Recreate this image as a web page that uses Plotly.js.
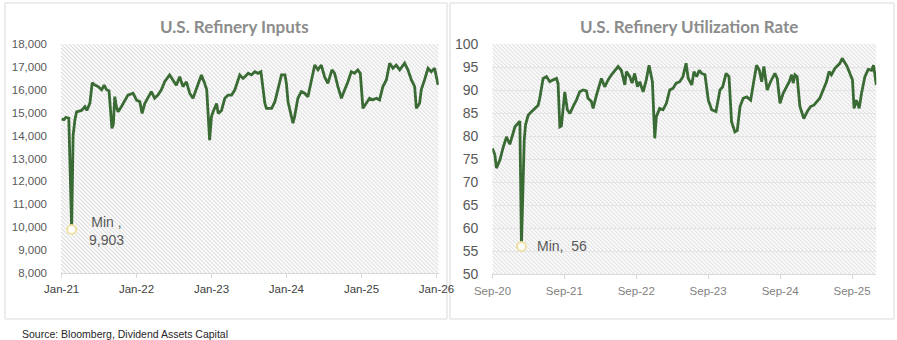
<!DOCTYPE html>
<html>
<head>
<meta charset="utf-8">
<script src="https://cdn.plot.ly/plotly-3.0.1.min.js"></script>
<style>
html,body{margin:0;padding:0;background:#fff;}
#chart{width:897px;height:340px;}
</style>
</head>
<body>
<div id="chart"></div>
<script>
// ---------- Data ----------
const inputsTitle = 'U.S. Refinery Inputs';
const utilTitle = 'U.S. Refinery Utilization Rate';
const sourceText = 'Source: Bloomberg, Dividend Assets Capital';

const inputDates = ['2021-01-01','2021-01-12','2021-01-22','2021-02-05','2021-02-19','2021-02-26','2021-03-07','2021-03-15','2021-04-08','2021-04-24','2021-05-04','2021-05-19','2021-05-30','2021-06-12','2021-06-28','2021-07-15','2021-07-27','2021-08-08','2021-08-20','2021-09-03','2021-09-10','2021-09-17','2021-09-25','2021-10-03','2021-10-19','2021-11-04','2021-11-20','2021-12-15','2022-01-01','2022-01-17','2022-01-28','2022-02-10','2022-02-26','2022-03-14','2022-03-30','2022-04-15','2022-05-02','2022-05-18','2022-06-11','2022-06-27','2022-07-14','2022-07-30','2022-08-15','2022-09-01','2022-09-17','2022-10-03','2022-10-19','2022-11-13','2022-11-29','2022-12-09','2022-12-23','2023-01-01','2023-01-09','2023-01-26','2023-02-03','2023-02-19','2023-03-07','2023-03-23','2023-04-09','2023-04-25','2023-05-19','2023-06-04','2023-06-13','2023-06-29','2023-07-15','2023-07-31','2023-08-16','2023-08-30','2023-09-10','2023-09-18','2023-09-26','2023-10-21','2023-11-06','2023-11-22','2023-12-08','2023-12-25','2024-01-01','2024-01-09','2024-01-25','2024-02-02','2024-02-10','2024-02-26','2024-03-14','2024-03-30','2024-04-15','2024-05-02','2024-05-18','2024-06-03','2024-06-19','2024-07-05','2024-07-21','2024-08-10','2024-08-23','2024-09-08','2024-09-25','2024-10-11','2024-10-27','2024-11-12','2024-11-28','2024-12-14','2024-12-26','2025-01-08','2025-01-24','2025-02-09','2025-02-25','2025-03-14','2025-03-30','2025-04-15','2025-05-02','2025-05-18','2025-06-03','2025-06-19','2025-07-06','2025-07-30','2025-08-15','2025-09-01','2025-09-17','2025-09-25','2025-10-11','2025-10-19','2025-11-04','2025-11-21','2025-12-07','2025-12-23','2026-01-09'];
const inputValues = [14725,14700,14800,14760,9903,14000,14700,15040,15100,15260,15100,15420,16310,16210,16140,16000,16200,16000,15950,14320,14500,15700,15260,15040,15260,15550,15770,15850,15550,15480,14970,15400,15630,15920,15630,15770,16000,16350,16650,16430,16200,16570,16140,16350,15850,15630,16000,16650,16280,16000,13800,14830,15040,15400,14960,15100,15630,15770,15770,16000,16650,16500,16570,16720,16650,16790,16720,16790,16000,15410,15190,15190,15480,16140,16650,16650,16280,15480,14760,14540,14830,15630,15920,15850,15700,16430,17080,16870,17080,16570,16280,16870,16720,16140,15630,16000,16350,16790,16720,16870,16720,15190,15410,15630,15560,15630,15560,16140,16430,17160,16940,17080,16870,17160,16870,16430,16140,15190,15410,16000,16430,16940,16790,16940,16210];

const utilDates = ['2020-09-25','2020-10-07','2020-10-15','2020-11-02','2020-11-18','2020-12-05','2020-12-22','2021-01-08','2021-01-17','2021-02-02','2021-02-11','2021-02-19','2021-02-26','2021-03-05','2021-03-12','2021-03-19','2021-03-25','2021-04-11','2021-04-28','2021-05-15','2021-05-23','2021-06-09','2021-06-26','2021-07-13','2021-07-30','2021-08-16','2021-08-24','2021-09-02','2021-09-10','2021-09-27','2021-10-10','2021-10-23','2021-11-08','2021-11-25','2021-12-12','2021-12-29','2022-01-15','2022-01-23','2022-02-09','2022-02-18','2022-03-07','2022-03-24','2022-04-01','2022-04-18','2022-05-05','2022-05-22','2022-06-04','2022-06-25','2022-07-11','2022-07-29','2022-08-06','2022-08-23','2022-09-04','2022-09-17','2022-10-01','2022-10-13','2022-10-30','2022-11-15','2022-11-29','2022-12-11','2022-12-16','2022-12-28','2023-01-05','2023-01-22','2023-02-08','2023-02-25','2023-03-14','2023-03-31','2023-04-16','2023-05-04','2023-05-20','2023-06-05','2023-06-16','2023-07-04','2023-07-15','2023-07-29','2023-08-11','2023-08-23','2023-09-09','2023-09-26','2023-10-13','2023-11-04','2023-11-24','2023-12-08','2023-12-25','2024-01-09','2024-01-22','2024-02-08','2024-02-20','2024-03-05','2024-03-21','2024-04-08','2024-04-28','2024-05-15','2024-05-28','2024-06-11','2024-06-23','2024-07-04','2024-07-21','2024-08-07','2024-08-29','2024-09-10','2024-09-24','2024-10-10','2024-10-27','2024-11-10','2024-11-22','2024-11-30','2024-12-09','2024-12-20','2025-01-03','2025-01-23','2025-02-09','2025-02-26','2025-03-15','2025-03-29','2025-04-14','2025-05-01','2025-05-18','2025-05-31','2025-06-12','2025-06-30','2025-07-11','2025-07-25','2025-08-06','2025-08-20','2025-08-31','2025-09-14','2025-09-27','2025-10-05','2025-10-17','2025-10-31','2025-11-12','2025-11-29','2025-12-16','2026-01-02','2026-01-12','2026-01-26'];
const utilValues = [77.3,75.9,73.0,74.8,77.5,79.8,78.2,80.5,82.0,82.8,83.2,56.0,70.0,79.0,82.5,84.0,84.5,85.3,86.0,86.7,88.2,92.5,92.9,91.8,92.2,92.5,91.4,82.0,82.2,89.6,85.7,84.9,86.4,87.8,89.6,90.0,89.8,88.2,87.5,86.0,88.9,91.8,92.5,90.7,92.2,93.3,94.0,95.1,94.3,91.1,94.0,92.9,91.5,93.6,90.7,91.8,89.6,92.2,95.4,92.5,91.8,79.5,84.2,86.0,85.7,87.1,90.0,90.4,91.5,91.8,92.9,95.8,92.5,91.1,94.0,92.9,94.3,93.6,93.3,87.8,85.7,85.3,90.0,90.7,93.6,92.9,83.1,80.9,81.2,86.4,88.2,88.5,87.8,92.2,95.4,94.3,91.8,95.1,90.0,91.8,93.6,92.5,87.1,89.3,90.7,91.8,93.3,91.5,93.3,92.9,86.4,83.8,85.3,86.4,86.7,87.3,88.2,90.0,91.8,94.0,93.3,94.7,95.1,95.8,96.9,95.8,95.1,93.6,92.2,86.0,87.8,86.0,89.3,92.9,94.5,94.3,95.4,91.1];

// ---------- Helpers ----------
const W = 897, H = 340;
const px = v => v / W;
const py = v => 1 - v / H;
function minIndex(arr){ let k=0; arr.forEach((v,i)=>{ if(v<arr[k]) k=i; }); return k; }
function hatch(w,h){
  const svg = `<svg xmlns="http://www.w3.org/2000/svg" width="${w}" height="${h}" viewBox="0 0 ${w} ${h}">`+
    `<defs><pattern id="p" patternUnits="userSpaceOnUse" width="4" height="4">`+
    `<rect width="4" height="4" fill="#ffffff"/>`+
    `<path d="M-1,-1 L5,5 M-1,3 L1,5 M3,-1 L5,1" stroke="#dcdcdc" stroke-width="1.1"/>`+
    `</pattern></defs><rect width="${w}" height="${h}" fill="url(#p)"/></svg>`;
  return 'data:image/svg+xml;charset=utf-8,' + encodeURIComponent(svg);
}

const green = '#3a6b34';
const L = {x0:61, x1:438.7, y0:44, y1:273};
const R = {x0:492.3, x1:876.3, y0:44, y1:274};

const iMin = minIndex(inputValues);
const uMin = minIndex(utilValues);

const traces = [
  {x: inputDates, y: inputValues, type:'scatter', mode:'lines', xaxis:'x', yaxis:'y',
   line:{color:green, width:2.8}, hoverinfo:'skip'},
  {x: [inputDates[iMin]], y:[inputValues[iMin]], type:'scatter', mode:'markers', xaxis:'x', yaxis:'y',
   marker:{size:9, color:'#ffffff', line:{color:'#efe0a2', width:2}}, hoverinfo:'skip'},
  {x: utilDates, y: utilValues, type:'scatter', mode:'lines', xaxis:'x2', yaxis:'y2',
   line:{color:green, width:2.8}, hoverinfo:'skip'},
  {x: [utilDates[uMin]], y:[utilValues[uMin]], type:'scatter', mode:'markers', xaxis:'x2', yaxis:'y2',
   marker:{size:9, color:'#ffffff', line:{color:'#efe0a2', width:2}}, hoverinfo:'skip'}
];

const tickFont = {family:'Liberation Sans, Arial, sans-serif', size:11.5, color:'#404040'};

const layout = {
  width: W, height: H,
  margin:{l:0,r:0,t:0,b:0},
  paper_bgcolor:'#ffffff', plot_bgcolor:'rgba(0,0,0,0)',
  showlegend:false,
  xaxis:{domain:[px(L.x0), px(L.x1)], anchor:'y', type:'date',
    range:['2020-12-29','2026-01-12'], tick0:'2021-01-01', dtick:'M12', tickformat:'%b-%y',
    showgrid:false, zeroline:false, showline:true, linecolor:'#d9d9d9', linewidth:1,
    ticks:'outside', ticklen:4, tickcolor:'#d9d9d9', tickfont:tickFont, ticklabelstandoff:1},
  yaxis:{domain:[py(L.y1), py(L.y0)], anchor:'x', range:[8000,18000], dtick:1000, tickformat:',d',
    showgrid:false, zeroline:false, showline:false, ticks:'',
    tickfont:{family:'Liberation Sans, Arial, sans-serif', size:11.5, color:'#595959'}, ticklabelstandoff:13},
  xaxis2:{domain:[px(R.x0), px(R.x1)], anchor:'y2', type:'date',
    range:['2020-09-24','2026-01-26'], tick0:'2020-09-25', dtick:'M12', tickformat:'%b-%y',
    showgrid:false, zeroline:false, showline:true, linecolor:'#d9d9d9', linewidth:1,
    ticks:'outside', ticklen:4, tickcolor:'#d9d9d9',
    tickfont:{family:'Liberation Sans, Arial, sans-serif', size:11.5, color:'#7f7f7f'}, ticklabelstandoff:2},
  yaxis2:{domain:[py(R.y1), py(R.y0)], anchor:'x2', range:[50,100], dtick:5,
    showgrid:true, gridcolor:'#e4e4e4', gridwidth:1, zeroline:false, showline:false, ticks:'',
    tickfont:{family:'Liberation Sans, Arial, sans-serif', size:14, color:'#595959'}, ticklabelstandoff:13},
  images:[
    {source:hatch(Math.round(L.x1-L.x0), L.y1-L.y0), xref:'paper', yref:'paper',
     x:px(L.x0), y:py(L.y0), sizex:px(L.x1-L.x0), sizey:(L.y1-L.y0)/H, xanchor:'left', yanchor:'top',
     sizing:'stretch', layer:'below'},
    {source:hatch(Math.round(R.x1-R.x0), R.y1-R.y0), xref:'paper', yref:'paper',
     x:px(R.x0), y:py(R.y0), sizex:px(R.x1-R.x0), sizey:(R.y1-R.y0)/H, xanchor:'left', yanchor:'top',
     sizing:'stretch', layer:'below'}
  ],
  shapes:[
    {type:'rect', xref:'paper', yref:'paper', x0:px(5), x1:px(447), y0:py(319), y1:py(3),
     line:{color:'#d9d9d9', width:1}, fillcolor:'rgba(0,0,0,0)', layer:'below'},
    {type:'rect', xref:'paper', yref:'paper', x0:px(450), x1:px(894), y0:py(319), y1:py(3),
     line:{color:'#d9d9d9', width:1}, fillcolor:'rgba(0,0,0,0)', layer:'below'}
  ],
  annotations:[
    {text:'<b>'+inputsTitle+'</b>', xref:'paper', yref:'paper', x:px(234), y:py(27), showarrow:false,
     xanchor:'center', yanchor:'middle', font:{family:'Lato, Open Sans, sans-serif', size:17, color:'#8c8c8c'}},
    {text:'<b>'+utilTitle+'</b>', xref:'paper', yref:'paper', x:px(689), y:py(27), showarrow:false,
     xanchor:'center', yanchor:'middle', font:{family:'Lato, Open Sans, sans-serif', size:17, color:'#8c8c8c'}},
    {text:'Min ,<br>' + inputValues[iMin].toLocaleString('en-US'), xref:'x', yref:'y',
     x:inputDates[iMin], y:inputValues[iMin], showarrow:false, xanchor:'center', yanchor:'middle',
     xshift:35, yshift:-2, align:'center',
     font:{family:'Liberation Sans, Arial, sans-serif', size:14, color:'#595959'}},
    {text:'Min,\u00a0 ' + Math.round(utilValues[uMin]), xref:'x2', yref:'y2',
     x:utilDates[uMin], y:utilValues[uMin], showarrow:false, xanchor:'left', yanchor:'middle',
     xshift:14, yshift:0,
     font:{family:'Liberation Sans, Arial, sans-serif', size:14, color:'#595959'}},
    {text:sourceText, xref:'paper', yref:'paper', x:px(20), y:py(334), showarrow:false,
     xanchor:'left', yanchor:'middle', font:{family:'Liberation Sans, Arial, sans-serif', size:10.5, color:'#262626'}}
  ]
};

Plotly.newPlot('chart', traces, layout, {staticPlot:true, displayModeBar:false});
</script>
</body>
</html>
